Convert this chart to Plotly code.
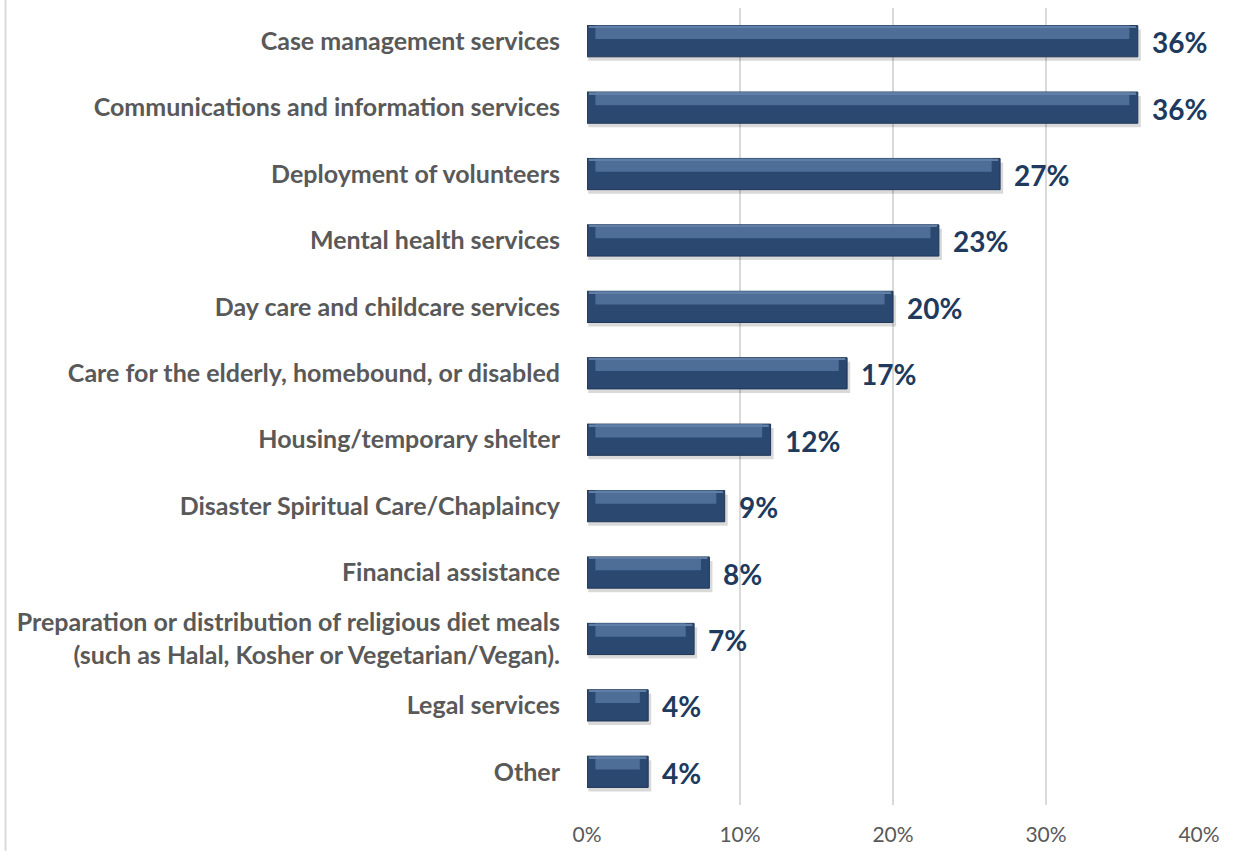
import plotly.graph_objects as go

categories = [
    "Case management services",
    "Communications and information services",
    "Deployment of volunteers",
    "Mental health services",
    "Day care and childcare services",
    "Care for the elderly, homebound, or disabled",
    "Housing/temporary shelter",
    "Disaster Spiritual Care/Chaplaincy",
    "Financial assistance",
    "Preparation or distribution of religious diet meals<br>(such as Halal, Kosher or Vegetarian/Vegan).",
    "Legal services",
    "Other",
]
values = [36, 36, 27, 23, 20, 17, 12, 9, 8, 7, 4, 4]
x_ticks = [0, 10, 20, 30, 40]
x_tick_labels = ["0%", "10%", "20%", "30%", "40%"]

BAR_W = 0.47
BEVEL = 0.55  # width of the end bevels, in axis units

fig = go.Figure()

# soft drop shadow
fig.add_trace(go.Bar(
    y=categories, x=[v + 0.12 for v in values], base=0.08, orientation="h",
    width=BAR_W, offset=-BAR_W / 2 - 0.06,
    marker=dict(color="rgba(0,0,0,0.15)", line=dict(width=0)),
    hoverinfo="skip", showlegend=False,
))
# main bar body (lower, darker face)
fig.add_trace(go.Bar(
    y=categories, x=values, orientation="h",
    width=BAR_W, offset=-BAR_W / 2,
    marker=dict(color="#2a4870", line=dict(color="#1f3656", width=1)),
    showlegend=False,
))
# upper lit face
fig.add_trace(go.Bar(
    y=categories, x=[v - 2 * BEVEL for v in values], base=BEVEL, orientation="h",
    width=0.2, offset=0.035,
    marker=dict(color="#4e6e97", line=dict(width=0)),
    hoverinfo="skip", showlegend=False,
))
# thin top highlight
fig.add_trace(go.Bar(
    y=categories, x=[v - 0.24 for v in values], base=0.12, orientation="h",
    width=0.025, offset=0.205,
    marker=dict(color="#5f7fa7", line=dict(width=0)),
    hoverinfo="skip", showlegend=False,
))

# value labels
for c, v in zip(categories, values):
    fig.add_annotation(
        x=v, y=c, text=f"{v}%", showarrow=False, xanchor="left",
        xshift=12, yshift=-1,
        font=dict(family="Lato", size=28, color="#203a5e", weight="bold"),
    )

fig.update_layout(
    width=1249, height=854,
    margin=dict(l=587, r=50, t=8, b=46),
    paper_bgcolor="white", plot_bgcolor="white",
    barmode="overlay",
    xaxis=dict(
        range=[0, 40], tickvals=x_ticks, ticktext=x_tick_labels,
        showgrid=True, gridcolor="#d9d9d9", gridwidth=1.5,
        zeroline=False, showline=False,
        tickfont=dict(family="Lato", size=21, color="#595959"),
        ticklabelstandoff=15,
    ),
    yaxis=dict(
        categoryorder="array", categoryarray=categories[::-1],
        range=[-0.5, len(categories) - 0.5],
        showgrid=False, zeroline=False, showline=False,
        tickfont=dict(family="Lato", size=25, color="#595959", weight="bold"),
        ticklabelstandoff=26,
    ),
    shapes=[dict(type="line", xref="paper", yref="paper",
                 x0=-587 / 612 + 5.5 / 612, x1=-587 / 612 + 5.5 / 612,
                 y0=-46 / 800, y1=1 + 8 / 800,
                 line=dict(color="#d9d9d9", width=2))],
)

fig.write_html("out.html")
